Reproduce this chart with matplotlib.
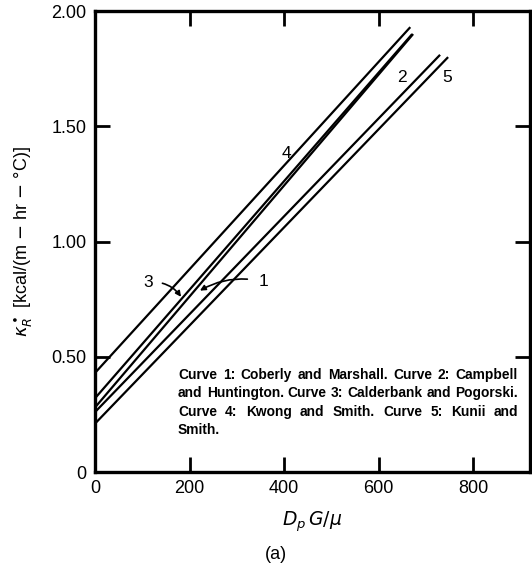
import matplotlib
matplotlib.use("Agg")
import matplotlib.pyplot as plt

# curves: straight lines from D_pG/mu = 0 to the end point
curve_ids = ["4", "3", "1", "2", "5"]
x_start = [0, 0, 0, 0, 0]
y_start = [0.43, 0.32, 0.28, 0.26, 0.21]
x_end = [667, 671, 673, 730, 747]
y_end = [1.93, 1.90, 1.90, 1.81, 1.80]

xticks = [0, 200, 400, 600, 800]
yticks = [0, 0.5, 1.0, 1.5, 2.0]
yticklabels = ["0", "0.50", "1.00", "1.50", "2.00"]

note_lines = [
    "Curve 1: Coberly and Marshall. Curve 2: Campbell",
    "and Huntington. Curve 3: Calderbank and Pogorski.",
    "Curve 4: Kwong and Smith. Curve 5: Kunii and",
    "Smith.",
]

plt.rcParams["font.family"] = ["Liberation Sans", "DejaVu Sans"]

fig = plt.figure(figsize=(5.32, 5.68), dpi=100)
ax = fig.add_axes([0.1786, 0.169, 0.8174, 0.8116])

for i in range(len(curve_ids)):
    ax.plot([x_start[i], x_end[i]], [y_start[i], y_end[i]], color="black",
            lw=1.6, solid_capstyle="butt")

ax.set_xlim(0, 920)
ax.set_ylim(0, 2.0)
ax.set_xticks(xticks)
ax.set_xticklabels([str(v) for v in xticks])
ax.set_yticks(yticks)
ax.set_yticklabels(yticklabels)
ax.tick_params(direction="in", length=11, width=2, labelsize=13,
               top=True, right=True, pad=6)
for s in ax.spines.values():
    s.set_linewidth(2.4)

# curve labels
ax.text(404, 1.38, "4", fontsize=12.5, ha="center", va="center")
ax.text(650, 1.71, "2", fontsize=12.5, ha="center", va="center")
ax.text(745, 1.71, "5", fontsize=12.5, ha="center", va="center")
ax.annotate("3", xy=(182, 0.76), xytext=(112, 0.822), fontsize=12.5,
            ha="center", va="center",
            arrowprops=dict(arrowstyle="-|>", color="black", lw=1.2,
                            connectionstyle="arc3,rad=-0.3", shrinkA=5, shrinkB=0,
                            mutation_scale=8))
ax.annotate("1", xy=(222, 0.787), xytext=(356, 0.826), fontsize=12.5,
            ha="center", va="center",
            arrowprops=dict(arrowstyle="-|>", color="black", lw=1.2,
                            connectionstyle="arc3,rad=0.2", shrinkA=6, shrinkB=0,
                            mutation_scale=8))

# explanatory note, justified between two pixel edges
fig.canvas.draw()
renderer = fig.canvas.get_renderer()
left_px, right_px = 178, 518
note_size = 9.9
to_data = ax.transData.inverted()
for k, line in enumerate(note_lines):
    y = 0.42 - k * 0.079
    words = line.split(" ")
    if k == len(note_lines) - 1:
        ax.text(to_data.transform((left_px, 0))[0], y, line, fontsize=note_size,
                fontweight="bold", ha="left", va="center")
        continue
    arts = []
    widths = []
    for w in words:
        t = ax.text(0, y, w, fontsize=note_size, fontweight="bold", ha="left",
                    va="center")
        widths.append(t.get_window_extent(renderer).width)
        arts.append(t)
    gap = (right_px - left_px - sum(widths)) / (len(words) - 1)
    xpos = left_px
    for t, wd in zip(arts, widths):
        t.set_x(to_data.transform((xpos, 0))[0])
        xpos += wd + gap

ax.set_xlabel(r"$D_p\,G/\mu$", fontsize=13.5, family="DejaVu Serif", labelpad=9)
ax.set_ylabel(r"$\kappa_R^\bullet$ [kcal/(m $-$ hr $-$ °C)]", fontsize=13,
              labelpad=12)
fig.text(0.519, 0.008, "(a)", fontsize=13, ha="center", va="bottom")

fig.savefig("out.png", dpi=100)
